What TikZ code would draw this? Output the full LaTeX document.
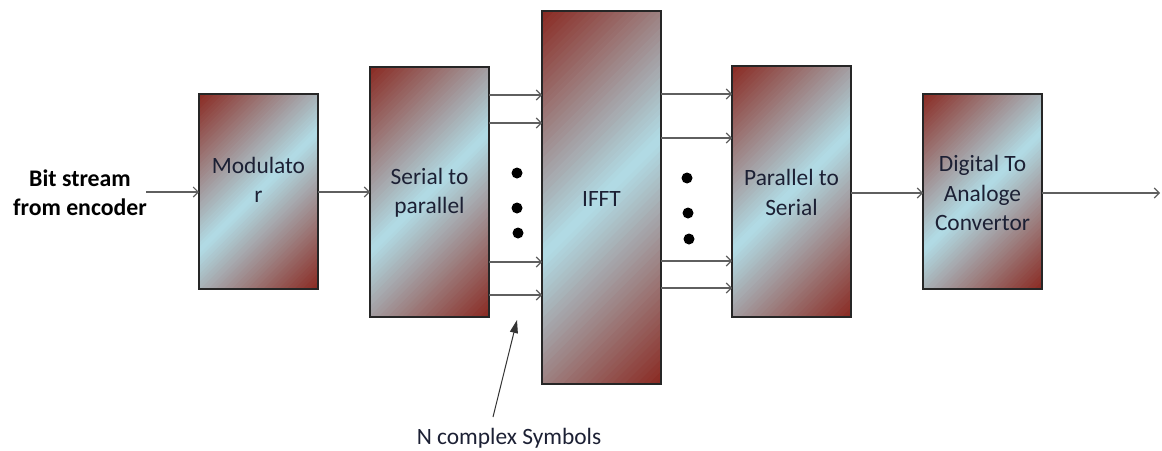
\documentclass[tikz,border=0pt]{standalone}
\usepackage{fontspec}
\setmainfont{Carlito}
\usetikzlibrary{arrows.meta}
\definecolor{boxred}{RGB}{138,42,34}
\definecolor{boxblue}{RGB}{178,222,232}
\definecolor{inktext}{RGB}{28,32,52}
\definecolor{wire}{RGB}{95,95,95}
% 45-degree two-tone gradient inside a block: red at the top-left and
% bottom-right corners, light blue on the 45-degree line through the centre
\newcommand\gradfill[3]{%
  \pgfmathsetmacro\gstep{(#2+#3)/80}
  \begin{scope}
    \clip (#1.north west) rectangle (#1.south east);
    \begin{scope}[shift={(#1.north west)}]
      \foreach \k in {0,...,79}{
        \pgfmathsetmacro\ca{\gstep*\k}
        \pgfmathsetmacro\cb{\gstep*(\k+1.4)}
        \pgfmathtruncatemacro\mixp{100*(1-abs(1-(\k+0.5)/40))}
        \fill[boxblue!\mixp!boxred]
          (\ca,0) -- (0,\ca) -- (0,\cb) -- (\cb,0) -- cycle;
      }
    \end{scope}
  \end{scope}
  \draw[frame] (#1.north west) rectangle (#1.south east);}
\begin{document}
\begin{tikzpicture}[x=1pt,y=-1pt,
  block/.style 2 args={inner sep=0pt, outer sep=0pt,
    minimum width=#1pt, minimum height=#2pt},
  frame/.style={draw=black!85, line width=1.2pt},
  lbl/.style={text=inktext, align=center, inner sep=0pt,
    font=\fontsize{23.4}{29.5}\selectfont},
  flow/.style={draw=wire, line width=1.1pt,
    -{Straight Barb[length=5pt,width=10pt]}},
  pointer/.style={draw=black!80, line width=1pt,
    -{Triangle[length=13pt,width=8pt]}},
  bigdot/.style={circle, fill=black, inner sep=0pt, minimum size=11pt},
]
\useasboundingbox (0,0) rectangle (1162,450);

% processing blocks
\node[block={119}{195}] (mod)  at (258.5,191.5) {};
\node[block={119}{250}] (s2p)  at (429.5,192)   {};
\node[block={119}{373}] (ifft) at (601.5,197.5) {};
\node[block={119}{251}] (p2s)  at (791.5,191.5) {};
\node[block={119}{195}] (dac)  at (982.5,191.5) {};
\gradfill{mod}{119}{195}
\gradfill{s2p}{119}{250}
\gradfill{ifft}{119}{373}
\gradfill{p2s}{119}{251}
\gradfill{dac}{119}{195}

% block captions
\node[lbl] (modtxt)  at (258.5,180) {Modulato\\r};
\node[lbl] (s2ptxt)  at (429.5,193) {Serial to\\parallel};
\node[lbl] (iffttxt) at (601.5,199) {IFFT};
\node[lbl] (p2stxt)  at (791.5,192.5) {Parallel to\\Serial};
\node[lbl] (dactxt)  at (982.5,193) {Digital To\\Analoge\\Convertor};

% input / output
\node[lbl, text=black, font=\bfseries\fontsize{23.8}{29.5}\selectfont] (src) at (80,192.5) {Bit stream\\from encoder};
\coordinate (srcend) at (146,192);
\coordinate (sink) at (1160,193);

\draw[flow] (srcend) -- (mod.west |- srcend);
\draw[flow] (mod.east |- 0,192) -- (s2p.west |- 0,192);
\foreach \yy in {95,123,262,295}
  \draw[flow] (s2p.east |- 0,\yy) -- (ifft.west |- 0,\yy);
\foreach \yy in {94,138,261,288}
  \draw[flow] (ifft.east |- 0,\yy) -- (p2s.west |- 0,\yy);
\draw[flow] (p2s.east |- 0,193) -- (dac.west |- 0,193);
\draw[flow] (dac.east |- sink) -- (sink);

% ellipsis dots for the remaining sub-carriers
\node[bigdot] (la) at (517,173) {};
\node[bigdot] (lb) at (517,208) {};
\node[bigdot] (lc) at (518,233) {};
\node[bigdot] (ra) at (687,178) {};
\node[bigdot] (rb) at (688,213) {};
\node[bigdot] (rc) at (689,239) {};

% annotation
\node[lbl] (nsym) at (509,438) {N complex Symbols};
\coordinate (ntail) at (493,417);
\coordinate (ntip) at (517,320);
\draw[pointer] (ntail) -- (ntip);
\end{tikzpicture}
\end{document}
